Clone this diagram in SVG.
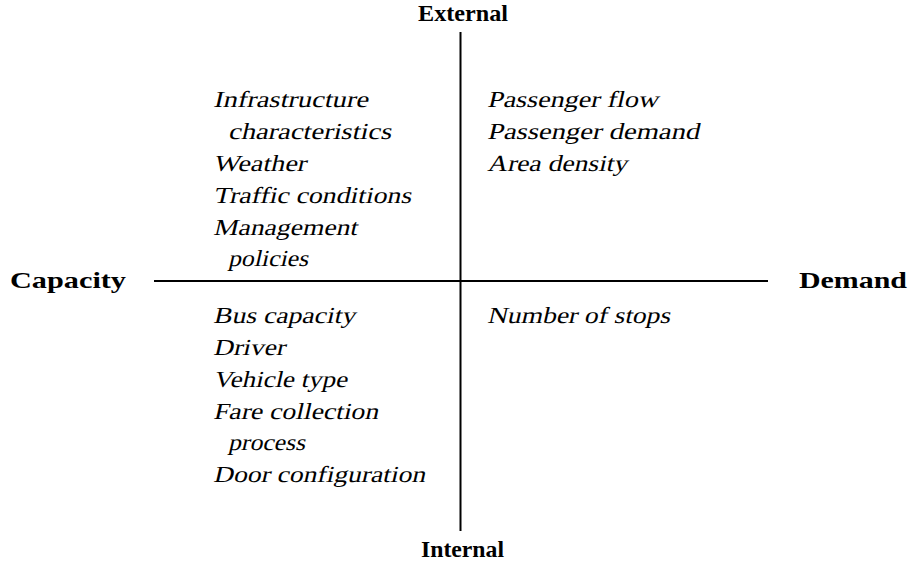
<svg xmlns="http://www.w3.org/2000/svg" width="912" height="569" viewBox="0 0 912 569">
<style>
.it{font-family:"Liberation Serif","Times New Roman",serif;font-size:23px;fill:#000}
.bd{font-family:"Liberation Serif","Times New Roman",serif;font-weight:bold;font-size:24px;fill:#000}
.ax{stroke:#000;stroke-width:2;fill:none}
</style>
<rect width="912" height="569" fill="#fff"/>
<g id="axes">
<line class="ax" x1="460.5" y1="32" x2="460.5" y2="531"/>
<line class="ax" x1="154" y1="281" x2="768" y2="281"/>
</g>
<g id="external"><text class="bd" x="418" y="21" textLength="90" lengthAdjust="spacingAndGlyphs">External</text></g>
<g id="internal"><text class="bd" x="421" y="557" textLength="83" lengthAdjust="spacingAndGlyphs">Internal</text></g>
<g id="capacity"><text class="bd" x="10" y="288" textLength="116" lengthAdjust="spacingAndGlyphs">Capacity</text></g>
<g id="demand"><text class="bd" x="799" y="288" textLength="108" lengthAdjust="spacingAndGlyphs">Demand</text></g>
<g id="q-external-capacity">
<g transform="translate(213,107) skewX(-13)"><text class="it" textLength="155" lengthAdjust="spacingAndGlyphs">Infrastructure</text></g>
<g transform="translate(228,139) skewX(-13)"><text class="it" textLength="163" lengthAdjust="spacingAndGlyphs">characteristics</text></g>
<g transform="translate(213,171) skewX(-13)"><text class="it" textLength="93" lengthAdjust="spacingAndGlyphs">Weather</text></g>
<g transform="translate(213,203) skewX(-13)"><text class="it" textLength="198" lengthAdjust="spacingAndGlyphs">Traffic conditions</text></g>
<g transform="translate(213,235) skewX(-13)"><text class="it" textLength="144" lengthAdjust="spacingAndGlyphs">Management</text></g>
<g transform="translate(228,266) skewX(-13)"><text class="it" textLength="80" lengthAdjust="spacingAndGlyphs">policies</text></g>
</g>
<g id="q-external-demand">
<g transform="translate(487,107) skewX(-13)"><text class="it" textLength="171" lengthAdjust="spacingAndGlyphs">Passenger flow</text></g>
<g transform="translate(487,139) skewX(-13)"><text class="it" textLength="212" lengthAdjust="spacingAndGlyphs">Passenger demand</text></g>
<g transform="translate(487,171) skewX(-13)"><text class="it" textLength="140" lengthAdjust="spacingAndGlyphs">Area density</text></g>
</g>
<g id="q-internal-capacity">
<g transform="translate(213,323) skewX(-13)"><text class="it" textLength="142" lengthAdjust="spacingAndGlyphs">Bus capacity</text></g>
<g transform="translate(213,355) skewX(-13)"><text class="it" textLength="72" lengthAdjust="spacingAndGlyphs">Driver</text></g>
<g transform="translate(213,387) skewX(-13)"><text class="it" textLength="134" lengthAdjust="spacingAndGlyphs">Vehicle type</text></g>
<g transform="translate(213,419) skewX(-13)"><text class="it" textLength="165" lengthAdjust="spacingAndGlyphs">Fare collection</text></g>
<g transform="translate(228,450) skewX(-13)"><text class="it" textLength="77" lengthAdjust="spacingAndGlyphs">process</text></g>
<g transform="translate(213,482) skewX(-13)"><text class="it" textLength="212" lengthAdjust="spacingAndGlyphs">Door configuration</text></g>
</g>
<g id="q-internal-demand">
<g transform="translate(487,323) skewX(-13)"><text class="it" textLength="183" lengthAdjust="spacingAndGlyphs">Number of stops</text></g>
</g>
</svg>
